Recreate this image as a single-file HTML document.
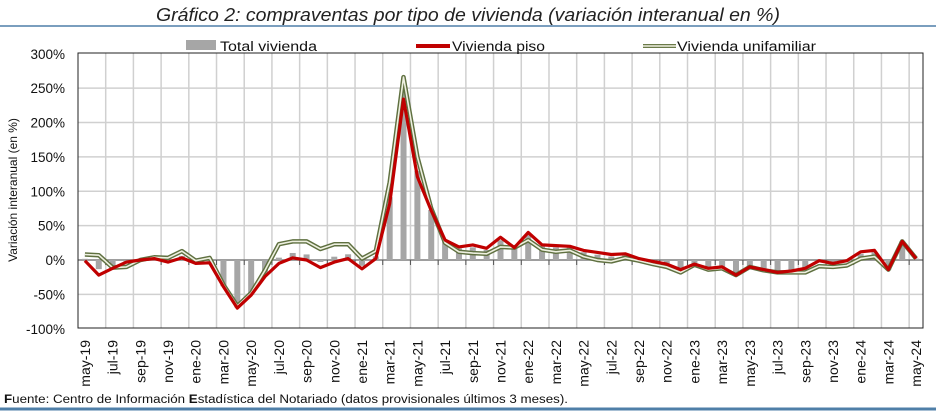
<!DOCTYPE html>
<html><head><meta charset="utf-8"><style>
html,body{margin:0;padding:0;background:#fff;}
svg{display:block;font-family:"Liberation Sans",sans-serif;}
</style></head><body>
<svg id="c" width="936" height="411" viewBox="0 0 936 411" xmlns="http://www.w3.org/2000/svg">
<rect width="936" height="411" fill="#fff"/>
<text x="468" y="21" text-anchor="middle" font-size="18" font-style="italic" fill="#222" textLength="624" lengthAdjust="spacingAndGlyphs">Gráfico 2: compraventas por tipo de vivienda (variación interanual en %)</text>
<line x1="0" y1="26" x2="936" y2="26" stroke="#4f7fa8" stroke-width="1.5"/>
<g id="grid"></g>
<g id="bars"></g>
<g id="lines"></g>
<rect x="78" y="53" width="845" height="275" fill="none" stroke="#222" stroke-width="1"/>
<g id="lab" font-size="13.5" fill="#111"></g>
<text transform="translate(17,190) rotate(-90)" text-anchor="middle" font-size="12" fill="#111">Variación interanual (en %)</text>
<rect x="186" y="40" width="30" height="10" fill="#a6a6a6"/>
<text x="220" y="51" font-size="13.5" fill="#111" textLength="97" lengthAdjust="spacingAndGlyphs">Total vivienda</text>
<line x1="416" y1="46" x2="450" y2="46" stroke="#c00000" stroke-width="4"/>
<text x="452" y="51" font-size="13.5" fill="#111" textLength="93" lengthAdjust="spacingAndGlyphs">Vivienda piso</text>
<line x1="643" y1="46" x2="676" y2="46" stroke="#6b7a4a" stroke-width="4"/>
<line x1="643" y1="46" x2="676" y2="46" stroke="#eef0e0" stroke-width="1.5"/>
<text x="677" y="51" font-size="13.5" fill="#111" textLength="139" lengthAdjust="spacingAndGlyphs">Vivienda unifamiliar</text>
<text x="4" y="403" font-size="11.5" fill="#111" textLength="564" lengthAdjust="spacingAndGlyphs"><tspan font-weight="bold">F</tspan>uente: Centro de Información <tspan font-weight="bold">E</tspan>stadística del Notariado (datos provisionales últimos 3 meses).</text>
<line x1="0" y1="409" x2="936" y2="409" stroke="#4f7fa8" stroke-width="3"/>
</svg>
<script>
var NS="http://www.w3.org/2000/svg";
function el(p,t,a,txt){var e=document.createElementNS(NS,t);for(var k in a)e.setAttribute(k,a[k]);if(txt!==undefined)e.textContent=txt;document.getElementById(p).appendChild(e);return e;}
var L=78,R=923,T=53,B=328,Z=260,cw=(R-L)/61,ppv=275/400;
function X(i){return L+cw*(i+0.5);}
function Y(v){return Z-v*ppv;}
var red=[-1,-22,-12,-3,0,2,-3,3,-5,-4,-39,-70,-51,-24,-5,3,0,-11,-3,2,-13,2,82,234,121,72,29,19,22,17,33,18,40,22,21,20,14,11,8,9,2,-2,-6,-14,-6,-12,-10,-22,-10,-14,-18,-16,-12,-1,-5,-1,12,14,-14,27,2];
var grn=[8,7,-11,-10,0,4,3,13,-1,3,-36,-67,-48,-15,23,27,27,16,23,23,2,13,113,266,150,75,25,12,10,9,19,18,29,15,12,14,5,0,-2,3,-1,-6,-10,-18,-7,-14,-12,-22,-10,-15,-18,-18,-18,-9,-10,-8,2,5,-14,27,2];
for(var v=-50;v<=250;v+=50){if(v==0)continue;el("grid","line",{x1:L,x2:R,y1:Y(v),y2:Y(v),stroke:"#d0d0d0","stroke-width":1.5});}
for(var k=2;k<61;k+=2){var x=L+cw*k;el("grid","line",{x1:x,x2:x,y1:T,y2:B,stroke:"#d0d0d0","stroke-width":1.5});}
for(var i=0;i<61;i++){var t=0.7*red[i]+0.3*grn[i];if(i==23)t=245;var y0=Y(0),y1=Y(t);
el("bars","rect",{x:X(i)-3,y:Math.min(y0,y1),width:6,height:Math.abs(y1-y0),fill:"#a6a6a6"});}
el("grid","line",{x1:L,x2:R,y1:Z,y2:Z,stroke:"#7f7f7f","stroke-width":1.5});
for(var k=0;k<=61;k+=2){var x=L+cw*k;el("grid","line",{x1:x,x2:x,y1:Z,y2:Z+5,stroke:"#555","stroke-width":1});}
function pts(a){return a.map(function(v,i){return X(i).toFixed(1)+","+Y(v).toFixed(1);}).join(" ");}
el("lines","polyline",{points:pts(grn),fill:"none",stroke:"#5f7040","stroke-width":4.5,"stroke-linejoin":"round"});
el("lines","polyline",{points:pts(grn),fill:"none",stroke:"#eef0e0","stroke-width":1.6,"stroke-linejoin":"round"});
el("lines","polyline",{points:pts(red),fill:"none",stroke:"#c00000","stroke-width":3.2,"stroke-linejoin":"round"});
for(var v=-100;v<=300;v+=50){el("lab","text",{x:65,y:Y(v)+5,"text-anchor":"end"},v+"%");}
for(var i=0;i<61;i+=2){var m=(4+i)%12,yr=19+Math.floor((4+i)/12);var mn=["ene","feb","mar","abr","may","jun","jul","ago","sep","oct","nov","dic"][m];
el("lab","text",{transform:"translate("+(X(i)+5)+",340) rotate(-90)","text-anchor":"end","font-size":"14"},mn+"-"+yr);}
</script>
</body></html>
